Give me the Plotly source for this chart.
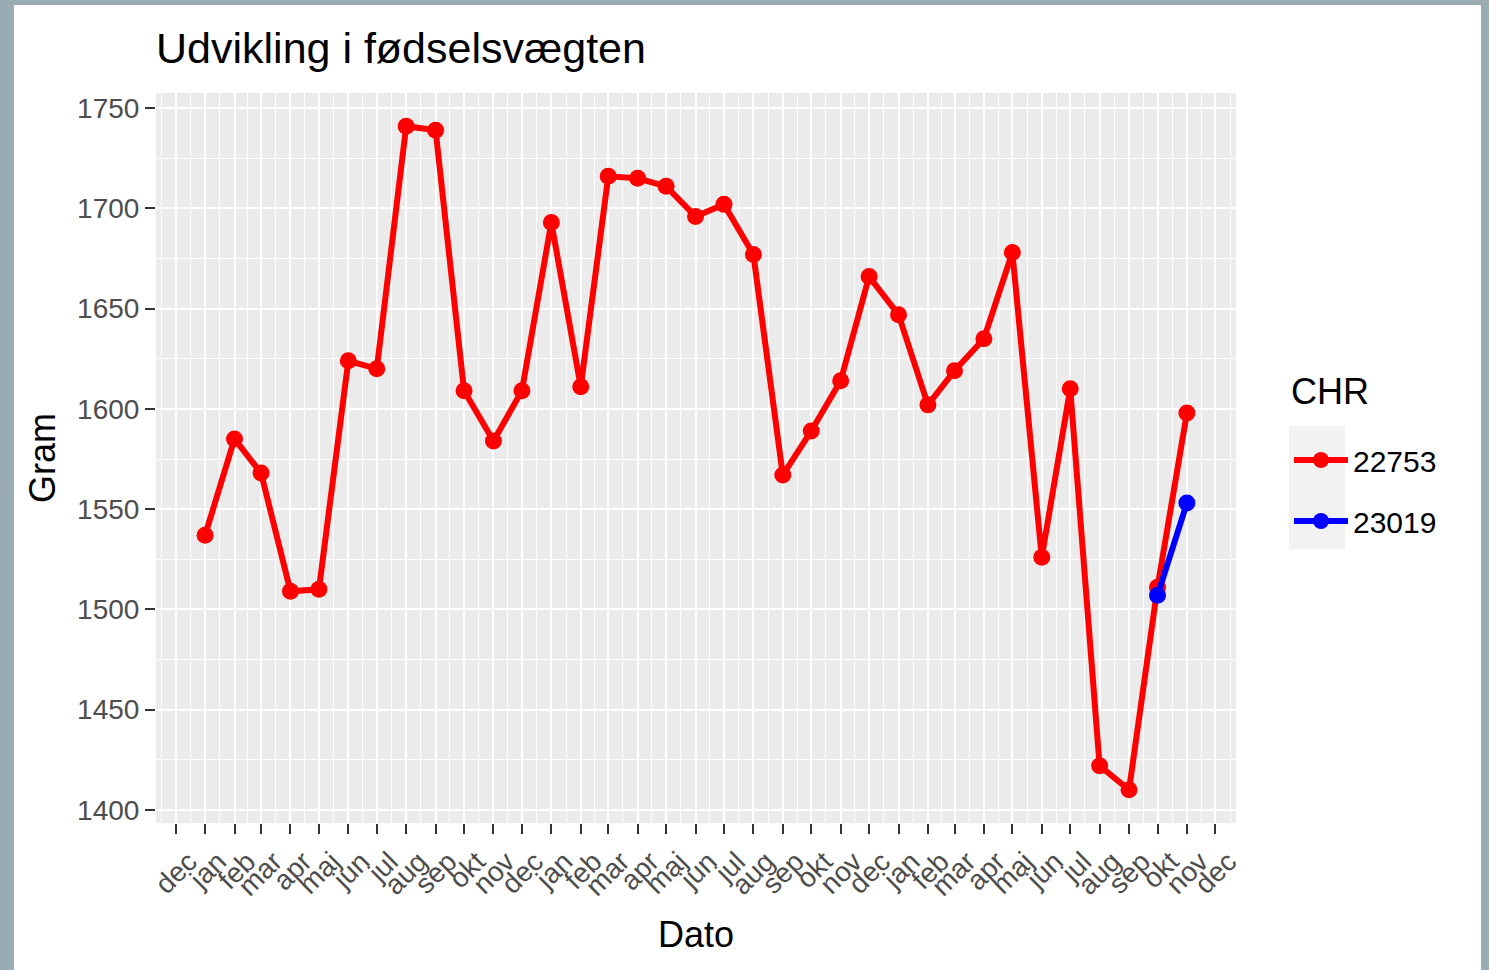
import pandas as pd
import plotly.graph_objects as go

# ---------------- data ----------------
red_dates = [
    "2019-01-01", "2019-02-01", "2019-03-01", "2019-04-01", "2019-05-01", "2019-06-01",
    "2019-07-01", "2019-08-01", "2019-09-01", "2019-10-01", "2019-11-01", "2019-12-01",
    "2020-01-01", "2020-02-01", "2020-03-01", "2020-04-01", "2020-05-01", "2020-06-01",
    "2020-07-01", "2020-08-01", "2020-09-01", "2020-10-01", "2020-11-01", "2020-12-01",
    "2021-01-01", "2021-02-01", "2021-03-01", "2021-04-01", "2021-05-01", "2021-06-01",
    "2021-07-01", "2021-08-01", "2021-09-01", "2021-10-01", "2021-11-01",
]
red_values = [
    1537, 1585, 1568, 1509, 1510, 1624, 1620, 1741, 1739, 1609, 1584, 1609,
    1693, 1611, 1716, 1715, 1711, 1696, 1702, 1677, 1567, 1589, 1614, 1666,
    1647, 1602, 1619, 1635, 1678, 1526, 1610, 1422, 1410, 1511, 1598,
]
blue_dates = ["2021-10-01", "2021-11-01"]
blue_values = [1507, 1553]

series_names = ["22753", "23019"]
series_colors = ["#FF0000", "#0000FF"]
month_labels = ["jan", "feb", "mar", "apr", "maj", "jun", "jul", "aug", "sep", "okt", "nov", "dec"]

title_text = "Udvikling i fødselsvægten"
x_title = "Dato"
y_title = "Gram"
legend_title = "CHR"

# ---------------- geometry ----------------
W, H = 1489, 970
ML, MR, MT, MB = 156, 253, 93, 147
PW, PH = W - ML - MR, H - MT - MB


def px_x(p):
    return (p - ML) / PW


def px_y(p):
    return (H - MB - p) / PH


FONT = "Liberation Sans, Arial, sans-serif"

# ---------------- scales ----------------
all_dates = pd.to_datetime(red_dates + blue_dates)
dmin, dmax = all_dates.min(), all_dates.max()
pad = (dmax - dmin) * 0.05
x_range = [dmin - pad, dmax + pad]

all_vals = red_values + blue_values
vmin, vmax = min(all_vals), max(all_vals)
vpad = (vmax - vmin) * 0.05
y_range = [vmin - vpad, vmax + vpad]

major = pd.date_range(dmin - pd.offsets.MonthBegin(1), dmax + pd.offsets.MonthBegin(1), freq="MS")
ticktext = [month_labels[d.month - 1] for d in major]
ext = pd.date_range(major[0] - pd.offsets.MonthBegin(1), major[-1] + pd.offsets.MonthBegin(1), freq="MS")
minor_vals = [ext[i] + (ext[i + 1] - ext[i]) / 2 for i in range(len(ext) - 1)]
minor_vals = [m for m in minor_vals if x_range[0] <= m <= x_range[1]]

# ---------------- figure ----------------
fig = go.Figure()
for name, color, xs, ys in [
    (series_names[0], series_colors[0], red_dates, red_values),
    (series_names[1], series_colors[1], blue_dates, blue_values),
]:
    fig.add_trace(go.Scatter(
        x=pd.to_datetime(xs), y=ys, mode="lines+markers", name=name,
        legendgroup=name,
        line=dict(color=color, width=6),
        marker=dict(color=color, size=17),
    ))

fig.update_layout(
    width=W, height=H,
    margin=dict(l=ML, r=MR, t=MT, b=MB, pad=0),
    paper_bgcolor="white",
    plot_bgcolor="#EBEBEB",
    font=dict(family=FONT, color="black"),
    title=dict(text=title_text, x=0, xref="paper", xanchor="left",
               y=1 - 48 / H, yref="container", yanchor="middle",
               font=dict(size=43, color="black", family=FONT)),
    showlegend=True,
    legend=dict(
        font=dict(size=30, color="black"),
        x=px_x(1289), xanchor="left",
        y=px_y(434), yanchor="top",
        bgcolor="rgba(0,0,0,0)",
        traceorder="grouped",
        tracegroupgap=19,
        itemwidth=54,
    ),
)

fig.update_xaxes(
    type="date", range=x_range,
    tickmode="array", tickvals=major, ticktext=ticktext,
    tickangle=-45, ticklabelshift=13,
    ticks="outside", ticklen=10, tickwidth=2, tickcolor="#333333",
    tickfont=dict(size=28, color="#4D4D4D", family=FONT),
    showgrid=True, gridcolor="white", gridwidth=2.2,
    minor=dict(tickmode="array", tickvals=minor_vals, showgrid=True,
               gridcolor="white", gridwidth=1.2, ticks=""),
    zeroline=False, showline=False,
    title=dict(text=x_title, font=dict(size=36, color="black"), standoff=20),
)
fig.update_yaxes(
    range=y_range, tickmode="linear", tick0=1400, dtick=50,
    ticks="outside", ticklen=10, tickwidth=2, tickcolor="#333333",
    tickfont=dict(size=28, color="#4D4D4D", family=FONT),
    showgrid=True, gridcolor="white", gridwidth=2.2,
    minor=dict(dtick=25, tick0=1400, showgrid=True, gridcolor="white", gridwidth=1.2, ticks=""),
    zeroline=False, showline=False,
    title=dict(text=y_title, font=dict(size=36, color="black"), standoff=10),
)

# legend title as annotation
fig.add_annotation(text=legend_title, xref="paper", yref="paper",
                   x=px_x(1289), y=px_y(391), xanchor="left", yanchor="middle",
                   showarrow=False, font=dict(size=36, color="black", family=FONT))

# legend key background and outer frame
frame = "#9AACB3"
fig.add_shape(type="rect", xref="paper", yref="paper", layer="above",
              x0=px_x(1289), x1=px_x(1345), y0=px_y(549), y1=px_y(426),
              fillcolor="#F2F2F2", line=dict(width=0))
fig.add_shape(type="rect", xref="paper", yref="paper", layer="above",
              x0=px_x(0), x1=px_x(14), y0=px_y(H), y1=px_y(0),
              fillcolor=frame, line=dict(width=0))
fig.add_shape(type="rect", xref="paper", yref="paper", layer="above",
              x0=px_x(0), x1=px_x(W), y0=px_y(5), y1=px_y(0),
              fillcolor=frame, line=dict(width=0))
fig.add_shape(type="rect", xref="paper", yref="paper", layer="above",
              x0=px_x(1481), x1=px_x(W), y0=px_y(H), y1=px_y(0),
              fillcolor=frame, line=dict(width=0))

fig.write_html("out.html", config={"displayModeBar": False},
               post_script="document.body.style.margin='0';")
